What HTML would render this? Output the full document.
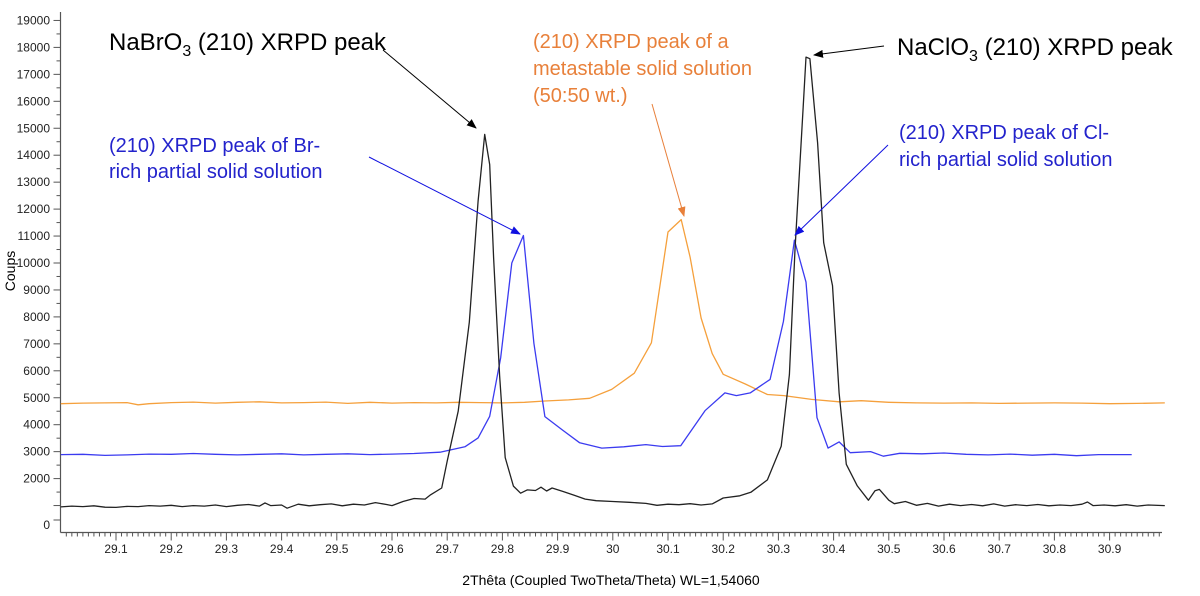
<!DOCTYPE html>
<html><head><meta charset="utf-8"><style>
html,body{margin:0;padding:0;background:#fff;}
svg{display:block;font-family:"Liberation Sans",Arial,sans-serif;}
</style></head><body>
<svg id="chart" width="1200" height="596" viewBox="0 0 1200 596" xmlns="http://www.w3.org/2000/svg">
<defs>
<marker id="ahK" markerWidth="10" markerHeight="8" refX="9" refY="4" orient="auto" markerUnits="userSpaceOnUse"><path d="M0,0 L10,4 L0,8 z" fill="#000"/></marker>
<marker id="ahB" markerWidth="10" markerHeight="8" refX="9" refY="4" orient="auto" markerUnits="userSpaceOnUse"><path d="M0,0 L10,4 L0,8 z" fill="#1010e0"/></marker>
<marker id="ahO" markerWidth="10" markerHeight="8" refX="9" refY="4" orient="auto" markerUnits="userSpaceOnUse"><path d="M0,0 L10,4 L0,8 z" fill="#e8803a"/></marker>
</defs>
<g id="axes"></g>
<g id="series"></g>
<g id="annotations">
<text x="109" y="50" font-size="24" fill="#000">NaBrO<tspan font-size="16" dy="6">3</tspan><tspan dy="-6"> (210) XRPD peak</tspan></text>
<line x1="383" y1="50" x2="476" y2="128" stroke="#000" stroke-width="1" marker-end="url(#ahK)"/>
<text x="109" y="152" font-size="20" fill="#2323cc">(210) XRPD peak of Br-</text>
<text x="109" y="178" font-size="20" fill="#2323cc">rich partial solid solution</text>
<line x1="369" y1="157" x2="520" y2="234" stroke="#1010e0" stroke-width="1" marker-end="url(#ahB)"/>
<text x="533" y="48" font-size="20" fill="#e8803a">(210) XRPD peak of a</text>
<text x="533" y="75" font-size="20" fill="#e8803a">metastable solid solution</text>
<text x="533" y="102" font-size="20" fill="#e8803a">(50:50 wt.)</text>
<line x1="652" y1="104" x2="684" y2="216" stroke="#e8803a" stroke-width="1" marker-end="url(#ahO)"/>
<text x="897" y="55" font-size="24" fill="#000">NaClO<tspan font-size="16" dy="6">3</tspan><tspan dy="-6"> (210) XRPD peak</tspan></text>
<line x1="884" y1="46" x2="814" y2="55" stroke="#000" stroke-width="1" marker-end="url(#ahK)"/>
<text x="899" y="139" font-size="20" fill="#2323cc">(210) XRPD peak of Cl-</text>
<text x="899" y="166" font-size="20" fill="#2323cc">rich partial solid solution</text>
<line x1="888" y1="145" x2="795" y2="235" stroke="#1010e0" stroke-width="1" marker-end="url(#ahB)"/>
</g>
<text transform="translate(15,271) rotate(-90)" text-anchor="middle" font-size="14" fill="#000">Coups</text>
<text x="611" y="585" text-anchor="middle" font-size="14" fill="#000">2Thêta (Coupled TwoTheta/Theta) WL=1,54060</text>
</svg>
<script>
const xTickLabels = ["29.1","29.2","29.3","29.4","29.5","29.6","29.7","29.8","29.9","30","30.1","30.2","30.3","30.4","30.5","30.6","30.7","30.8","30.9"];
const yTickValues = [2000,3000,4000,5000,6000,7000,8000,9000,10000,11000,12000,13000,14000,15000,16000,17000,18000,19000];

const blackX = [29.00,29.02,29.04,29.06,29.08,29.10,29.12,29.14,29.16,29.18,29.20,29.22,29.24,29.26,29.28,29.30,29.32,29.34,29.36,29.37,29.38,29.40,29.41,29.43,29.45,29.47,29.49,29.51,29.53,29.55,29.57,29.59,29.60,29.62,29.64,29.66,29.67,29.69,29.70,29.72,29.74,29.756,29.768,29.777,29.784,29.795,29.805,29.82,29.833,29.845,29.86,29.87,29.88,29.89,29.91,29.93,29.95,29.97,30.00,30.03,30.06,30.08,30.10,30.12,30.14,30.16,30.18,30.20,30.23,30.25,30.28,30.305,30.32,30.33,30.345,30.35,30.357,30.371,30.382,30.398,30.41,30.423,30.443,30.463,30.475,30.483,30.50,30.51,30.53,30.55,30.57,30.59,30.61,30.63,30.65,30.67,30.69,30.71,30.73,30.75,30.77,30.79,30.81,30.83,30.85,30.86,30.87,30.89,30.91,30.93,30.95,30.97,31.00];
const blackY = [950,980,960,990,940,930,970,960,1000,980,1010,960,1000,980,1020,960,1010,1040,980,1100,1000,1020,900,1050,990,1030,1060,990,1050,1020,1110,1040,1000,1150,1260,1240,1400,1650,2650,4500,7800,12300,14770,13650,10200,5830,2780,1720,1460,1580,1560,1680,1540,1650,1520,1380,1240,1180,1150,1120,1080,1010,1050,1030,1070,1020,1060,1280,1360,1490,1950,3200,5860,10500,15800,17640,17580,14460,10750,9160,5180,2530,1730,1200,1550,1600,1200,1070,1150,1010,1080,980,1050,1000,1040,990,1060,980,1030,1000,1040,990,1020,1000,1050,1130,1000,1020,990,1030,980,1020,1000];

const orangeX = [29.00,29.04,29.08,29.12,29.14,29.16,29.20,29.24,29.28,29.32,29.36,29.40,29.44,29.48,29.52,29.56,29.60,29.64,29.68,29.72,29.76,29.80,29.84,29.877,29.92,29.958,29.998,30.039,30.07,30.10,30.124,30.14,30.16,30.18,30.20,30.24,30.28,30.31,30.36,30.41,30.45,30.50,30.55,30.60,30.65,30.70,30.75,30.80,30.85,30.90,30.95,31.00];
const orangeY = [4780,4800,4810,4820,4740,4780,4820,4840,4800,4830,4850,4810,4820,4840,4790,4830,4800,4820,4810,4830,4820,4810,4830,4880,4920,4980,5310,5910,7040,11150,11610,10220,7960,6640,5870,5510,5120,5080,4940,4850,4890,4830,4810,4800,4810,4790,4800,4810,4800,4780,4790,4810];

const blueX = [29.00,29.04,29.08,29.12,29.16,29.20,29.24,29.28,29.32,29.36,29.40,29.44,29.48,29.52,29.56,29.60,29.64,29.687,29.732,29.756,29.777,29.797,29.817,29.838,29.857,29.877,29.909,29.94,29.98,30.02,30.06,30.09,30.123,30.167,30.203,30.224,30.249,30.285,30.309,30.329,30.35,30.37,30.39,30.41,30.43,30.467,30.49,30.52,30.56,30.60,30.64,30.68,30.72,30.76,30.80,30.84,30.88,30.94];
const blueY = [2890,2900,2860,2880,2910,2900,2930,2900,2880,2900,2920,2880,2900,2920,2890,2910,2930,2980,3180,3510,4310,6490,10000,11020,7020,4300,3800,3330,3130,3180,3260,3190,3220,4520,5180,5080,5180,5680,7830,10850,9290,4260,3130,3360,2960,3000,2830,2940,2920,2950,2900,2880,2910,2870,2900,2850,2890,2890];

const NS = "http://www.w3.org/2000/svg";
function xs(v){ return 116 + (v - 29.1) * 552; }
function ys(v){ return 532.5 - v * 0.02695; }
function mk(tag, attrs, parent){ const e = document.createElementNS(NS, tag); for (const k in attrs) e.setAttribute(k, attrs[k]); parent.appendChild(e); return e; }

const axes = document.getElementById('axes');
const yAxis = mk('line', {x1:60.5, y1:12, x2:60.5, y2:532.5, stroke:'#555', 'stroke-width':1.2}, axes);


const xAxis = mk('line', {x1:60.5, y1:532.5, x2:1162, y2:532.5, stroke:'#555', 'stroke-width':1.2}, axes);



// x ticks
for (let i = 1; i <= 199; i++) {
  const v = 29 + i * 0.01;
  const major = (i % 10 === 0);
  const t = mk('line', {x1:xs(v), y1:532.5, x2:xs(v), y2:532.5 + (major ? 8 : 4), stroke:'#555', 'stroke-width':1}, axes);
  
  
}
xTickLabels.forEach(function(lbl){
  const t = mk('text', {x:xs(parseFloat(lbl)), y:553, 'text-anchor':'middle', 'font-size':12, fill:'#222'}, axes);
  t.textContent = lbl;
  
  
});
// y ticks
for (let v = 1000; v <= 19000; v += 500) {
  const major = (v % 1000 === 0);
  const t = mk('line', {x1:60.5 - (major ? 7 : 4), y1:ys(v), x2:60.5, y2:ys(v), stroke:'#555', 'stroke-width':1}, axes);
  
  
}
const zt = mk('line', {x1:53.5, y1:520, x2:60.5, y2:520, stroke:'#555', 'stroke-width':1}, axes);


yTickValues.forEach(function(v){
  const t = mk('text', {x:50, y:ys(v) + 4, 'text-anchor':'end', 'font-size':12, fill:'#222'}, axes);
  t.textContent = String(v);
  
  
});
const z = mk('text', {x:50, y:529, 'text-anchor':'end', 'font-size':12, fill:'#222'}, axes);
z.textContent = "0";



const series = document.getElementById('series');
function drawLine(X, Y, color, name){
  let d = '';
  for (let i = 0; i < X.length; i++) d += (i ? 'L' : 'M') + xs(X[i]).toFixed(1) + ',' + ys(Y[i]).toFixed(1);
  const p = mk('path', {d:d, fill:'none', stroke:color, 'stroke-width':1.3, 'stroke-linejoin':'round'}, series);
  
  
}
drawLine(orangeX, orangeY, '#f5a03c', 'metastable-solid-solution-line');
drawLine(blueX, blueY, '#3b3bf0', 'partial-solid-solution-line');
drawLine(blackX, blackY, '#222', 'pure-phases-line');
</script>
</body></html>
